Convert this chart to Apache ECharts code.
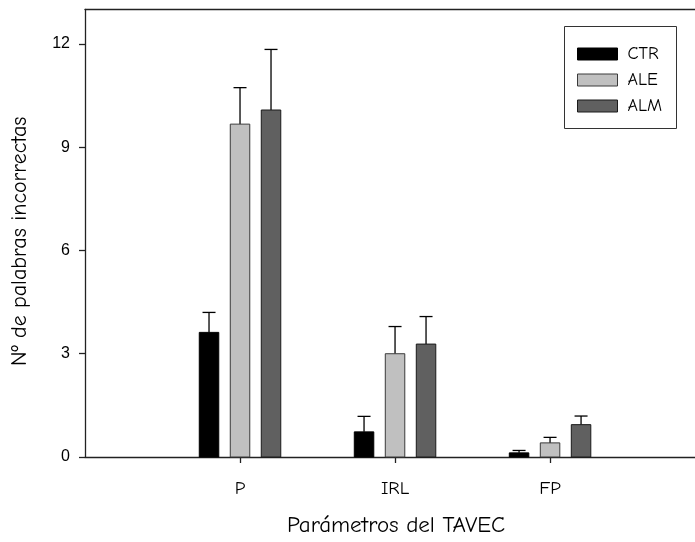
<!DOCTYPE html>
<html>
<head>
<meta charset="utf-8">
<script src="https://cdn.jsdelivr.net/npm/echarts@6/dist/echarts.min.js"></script>
<style>
html,body{margin:0;padding:0;background:#fff;}
#chart{width:695px;height:542px;}
</style>
</head>
<body>
<div id="chart"></div>
<script>
// ---- data ----
const categories = ['P', 'IRL', 'FP'];
const seriesNames = ['CTR', 'ALE', 'ALM'];
const ctrValues = [3.62, 0.73, 0.12];
const aleValues = [9.67, 3.00, 0.41];
const almValues = [10.08, 3.28, 0.94];
const ctrErrors = [0.58, 0.45, 0.07];
const aleErrors = [1.06, 0.79, 0.16];
const almErrors = [1.76, 0.80, 0.25];
const yTicks = [0, 3, 6, 9, 12];

const comic = "'Comic Sans MS', 'Comic Neue', 'Noto Sans', 'DejaVu Sans', sans-serif";
const arial = "'Liberation Sans', Arial, sans-serif";

const fills = ['#000000', '#c0c0c0', '#606060'];
const strokes = ['#000000', '#3a3a3a', '#1a1a1a'];
const offsets = [-31, 0, 31];
const barW = 19.5;

const allValues = [ctrValues, aleValues, almValues];
const allErrors = [ctrErrors, aleErrors, almErrors];

function makeSeries(si) {
  const data = categories.map((c, i) => [i + 1, allValues[si][i], allErrors[si][i]]);
  return {
    type: 'custom',
    name: seriesNames[si],
    coordinateSystem: 'cartesian2d',
    xAxisIndex: 0,
    yAxisIndex: 0,
    itemStyle: { color: fills[si], borderColor: strokes[si] },
    data: data,
    clip: false,
    renderItem: function (params, api) {
      const x = api.value(0), v = api.value(1), e = api.value(2);
      const top = api.coord([x, v]);
      const base = api.coord([x, 0]);
      const errTop = api.coord([x, v + e]);
      const cx = top[0] + offsets[si];
      const left = cx - barW / 2;
      return {
        type: 'group',
        children: [
          {
            type: 'line',
            shape: { x1: cx, y1: top[1], x2: cx, y2: errTop[1] },
            style: { stroke: '#000', lineWidth: 1.3 }
          },
          {
            type: 'line',
            shape: { x1: cx - 6.5, y1: errTop[1], x2: cx + 6.5, y2: errTop[1] },
            style: { stroke: '#000', lineWidth: 1.3 }
          },
          {
            type: 'rect',
            shape: { x: left, y: top[1], width: barW, height: base[1] - top[1] },
            style: { fill: fills[si], stroke: strokes[si], lineWidth: 1 }
          }
        ]
      };
    }
  };
}

const chart = echarts.init(document.getElementById('chart'), null, { renderer: 'canvas' });
chart.setOption({
  animation: false,
  backgroundColor: '#ffffff',
  grid: { left: 85, right: 0, top: 9.5, bottom: 84.7, containLabel: false },
  legend: {
    orient: 'vertical',
    left: 577,
    top: 45,
    padding: 0,
    itemWidth: 40,
    itemHeight: 12,
    itemGap: 8,
    icon: 'rect',
    selectedMode: false,
    textStyle: { fontFamily: comic, fontSize: 18, color: '#000', padding: [0, 0, 0, 5] },
    data: seriesNames.map((n, i) => ({
      name: n,
      itemStyle: { color: fills[i], borderColor: strokes[i], borderWidth: 1 }
    }))
  },
  graphic: [
    {
      type: 'rect',
      shape: { x: 564.5, y: 26.5, width: 112, height: 102 },
      style: { fill: 'none', stroke: '#333', lineWidth: 1 },
      z: 5
    }
  ],
  xAxis: [
    {
      type: 'value',
      min: 0,
      max: 3.935,
      position: 'bottom',
      name: 'Parámetros del TAVEC',
      nameLocation: 'middle',
      nameGap: 57,
      nameTextStyle: { fontFamily: comic, fontSize: 23, color: '#000', padding: [0, 0, 0, 12] },
      axisLine: { show: true, onZero: false, lineStyle: { color: '#222', width: 1.3 } },
      axisTick: { show: true, length: 6, customValues: [1, 2, 3], lineStyle: { color: '#222', width: 1.3 } },
      axisLabel: {
        customValues: [1, 2, 3],
        margin: 22,
        fontFamily: comic,
        fontSize: 19,
        color: '#000',
        formatter: function (v) { return categories[Math.round(v) - 1] || ''; }
      },
      splitLine: { show: false }
    },
    {
      type: 'value',
      min: 0,
      max: 3.935,
      position: 'top',
      axisLine: { show: true, onZero: false, lineStyle: { color: '#222', width: 1.3 } },
      axisTick: { show: false },
      axisLabel: { show: false },
      splitLine: { show: false }
    }
  ],
  yAxis: {
    type: 'value',
    min: yTicks[0],
    max: 13,
    interval: 3,
    name: 'Nº de palabras incorrectas',
    nameLocation: 'middle',
    nameGap: 54,
    nameTextStyle: { fontFamily: comic, fontSize: 22, color: '#000', padding: [0, 16, 0, 0] },
    axisLine: { show: true, lineStyle: { color: '#222', width: 1.3 } },
    axisTick: { show: true, length: 6, lineStyle: { color: '#222', width: 1.3 } },
    axisLabel: {
      margin: 15,
      fontFamily: arial,
      fontSize: 16,
      color: '#000',
      showMaxLabel: false,
      formatter: function (v) { return yTicks.indexOf(v) >= 0 ? String(v) : ''; }
    },
    splitLine: { show: false }
  },
  series: [makeSeries(0), makeSeries(1), makeSeries(2)]
});
</script>
</body>
</html>
